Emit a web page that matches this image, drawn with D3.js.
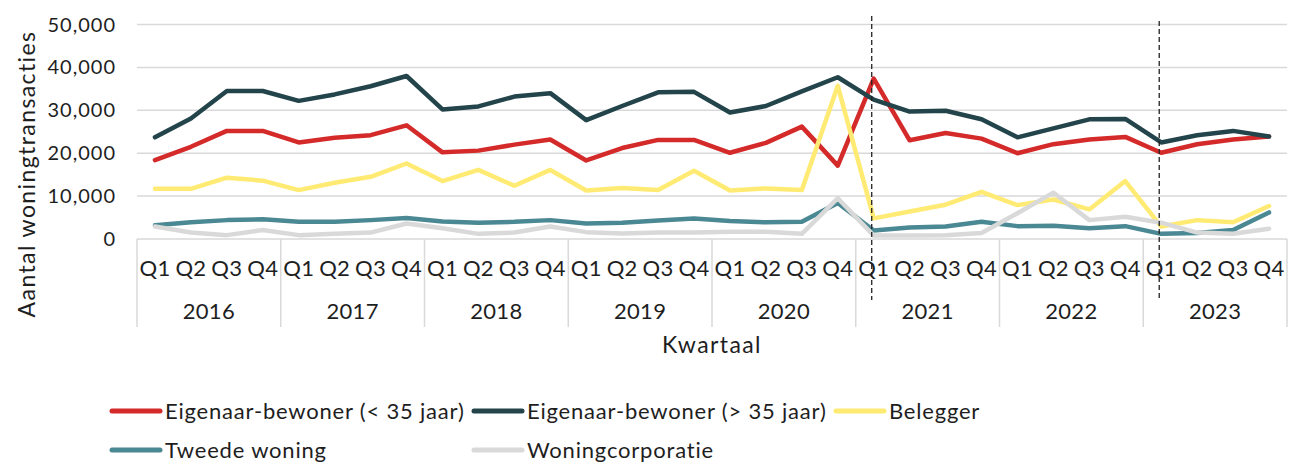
<!DOCTYPE html>
<html>
<head>
<meta charset="utf-8">
<script src="https://cdn.jsdelivr.net/npm/d3@7/dist/d3.min.js"></script>
<style>
  body { margin: 0; background: #fff; }
  svg { display: block; font-family: Lato, "Open Sans", sans-serif; }
  .lbl { fill: #1e1e1e; }
  .ytick { font-size: 20px; letter-spacing: 1px; }
  .cat { font-size: 22px; letter-spacing: 0.3px; }
  .title { font-size: 23px; letter-spacing: 1.4px; }
  .leg { font-size: 22px; letter-spacing: 0.8px; }
</style>
</head>
<body>
<svg id="chart" width="1290" height="466"></svg>
<script>
const years = ["2016", "2017", "2018", "2019", "2020", "2021", "2022", "2023"];
const quarters = ["Q1", "Q2", "Q3", "Q4"];
const yTicks = [0, 10000, 20000, 30000, 40000, 50000];

const seriesNames = [
    "Eigenaar-bewoner (< 35 jaar)",
    "Eigenaar-bewoner (> 35 jaar)",
    "Belegger",
    "Tweede woning",
    "Woningcorporatie"
];
const seriesColors = ["#d42a2a", "#23444a", "#ffeb73", "#4a8893", "#d9d9d9"];

const jong = [
    18400, 21500, 25200, 25200,
    22500, 23600, 24200, 26500,
    20200, 20600, 22000, 23200,
    18300, 21200, 23100, 23100,
    20100, 22400, 26200, 17100,
    37400, 23000, 24700, 23400,
    20000, 22100, 23200, 23800,
    20100, 22100, 23200, 23900
];
const oud = [
    23700, 28100, 34500, 34500,
    32200, 33700, 35600, 38000,
    30200, 30900, 33200, 34000,
    27700, 31000, 34200, 34300,
    29500, 31000, 34400, 37700,
    32500, 29700, 29900, 27900,
    23700, 25800, 27900, 28000,
    22500, 24200, 25200, 23900
];
const belegger = [
    11700, 11700, 14300, 13600,
    11400, 13100, 14500, 17600,
    13500, 16100, 12400, 16100,
    11300, 11900, 11400, 15900,
    11300, 11800, 11400, 35700,
    4800, 6400, 8000, 11000,
    7900, 9200, 6900, 13500,
    2900, 4400, 3900, 7700
];
const tweede = [
    3200, 3900, 4400, 4600,
    4000, 4000, 4400, 4900,
    4100, 3800, 4000, 4400,
    3600, 3800, 4300, 4800,
    4200, 3900, 4000, 8400,
    2000, 2700, 2900, 4000,
    3000, 3100, 2500, 3000,
    1200, 1400, 2100, 6200
];
const corporatie = [
    2900, 1500, 900, 2100,
    900, 1200, 1500, 3600,
    2500, 1200, 1500, 2900,
    1600, 1300, 1500, 1500,
    1700, 1700, 1200, 9500,
    800, 800, 900, 1400,
    6000, 10800, 4400, 5200,
    3800, 1500, 1200, 2400
];
// dashed markers at the start of these quarters
const markers = ["2021-Q1", "2023-Q1"];

const allSeries = [jong, oud, belegger, tweede, corporatie];

const margin = { left: 137, right: 3, top: 24.5, plotBottom: 239 };
const W = 1290;

const svg = d3.select("#chart");

const keys = [];
years.forEach(y => quarters.forEach(q => keys.push(y + "-" + q)));

const x = d3.scaleBand().domain(keys).range([margin.left, W - margin.right]).padding(0);
const xYear = d3.scaleBand().domain(years).range([margin.left, W - margin.right]).padding(0);
const y = d3.scaleLinear().domain([0, 50000]).range([margin.plotBottom, margin.top]);

const cx = k => x(k) + x.bandwidth() / 2;

// gridlines
svg.append("g")
    .selectAll("line")
    .data(yTicks)
    .enter()
    .append("line")
    .attr("x1", margin.left)
    .attr("x2", W - margin.right)
    .attr("y1", d => y(d))
    .attr("y2", d => y(d))
    .style("stroke", "#d9d9d9")
    .style("stroke-width", 1.5);

// y labels
svg.append("g")
    .selectAll("text")
    .data(yTicks)
    .enter()
    .append("text")
    .attr("class", "lbl ytick")
    .attr("x", 116)
    .attr("y", d => y(d))
    .attr("dy", "0.35em")
    .attr("text-anchor", "end")
    .text(d => d3.format(",")(d));

// year separators under the axis
const sepX = years.map(d => xYear(d)).concat([xYear(years[years.length - 1]) + xYear.bandwidth()]);
svg.append("g")
    .selectAll("line")
    .data(sepX)
    .enter()
    .append("line")
    .attr("x1", d => d)
    .attr("x2", d => d)
    .attr("y1", margin.plotBottom)
    .attr("y2", 327)
    .style("stroke", "#d9d9d9")
    .style("stroke-width", 1.5);

// quarter labels
svg.append("g")
    .selectAll("text")
    .data(keys)
    .enter()
    .append("text")
    .attr("class", "lbl cat")
    .attr("x", d => cx(d))
    .attr("y", 268)
    .attr("dy", "0.35em")
    .attr("text-anchor", "middle")
    .text(d => d.split("-")[1]);

// year labels
svg.append("g")
    .selectAll("text")
    .data(years)
    .enter()
    .append("text")
    .attr("class", "lbl cat")
    .attr("x", d => xYear(d) + xYear.bandwidth() / 2)
    .attr("y", 311)
    .attr("dy", "0.35em")
    .attr("text-anchor", "middle")
    .text(d => d);

// axis titles
svg.append("text")
    .attr("class", "lbl title")
    .attr("x", (margin.left + W - margin.right) / 2)
    .attr("y", 345)
    .attr("dy", "0.35em")
    .attr("text-anchor", "middle")
    .text("Kwartaal");

svg.append("text")
    .attr("class", "lbl title")
    .attr("transform", "translate(27,174) rotate(-90)")
    .attr("dy", "0.35em")
    .attr("text-anchor", "middle")
    .text("Aantal woningtransacties");

// lines
const line = d3.line()
    .x((d, i) => cx(keys[i]))
    .y(d => y(d));

svg.append("g")
    .selectAll("path")
    .data(allSeries)
    .enter()
    .append("path")
    .attr("d", d => line(d))
    .style("fill", "none")
    .style("stroke", (d, i) => seriesColors[i])
    .style("stroke-width", 4.5)
    .style("stroke-linejoin", "round")
    .style("stroke-linecap", "round");

// dashed markers
svg.append("g")
    .selectAll("line")
    .data(markers)
    .enter()
    .append("line")
    .attr("x1", d => cx(d) - 2)
    .attr("x2", d => cx(d) - 2)
    .attr("y1", (d, i) => i === 0 ? 16 : 21)
    .attr("y2", 300)
    .style("stroke", "#222")
    .style("stroke-width", 1.3)
    .style("stroke-dasharray", "5,3");

// legend
const legendPos = [
    { x: 110, y: 411 }, { x: 472, y: 411 }, { x: 834, y: 411 },
    { x: 110, y: 450 }, { x: 472, y: 450 }
];
const legend = svg.append("g")
    .selectAll("g")
    .data(seriesNames)
    .enter()
    .append("g")
    .attr("transform", (d, i) => "translate(" + legendPos[i].x + "," + legendPos[i].y + ")");

legend.append("line")
    .attr("x1", 2)
    .attr("x2", 50)
    .style("stroke", (d, i) => seriesColors[i])
    .style("stroke-width", 5)
    .style("stroke-linecap", "round");

legend.append("text")
    .attr("class", "lbl leg")
    .attr("x", 55)
    .attr("dy", "0.35em")
    .text(d => d);
</script>
</body>
</html>
